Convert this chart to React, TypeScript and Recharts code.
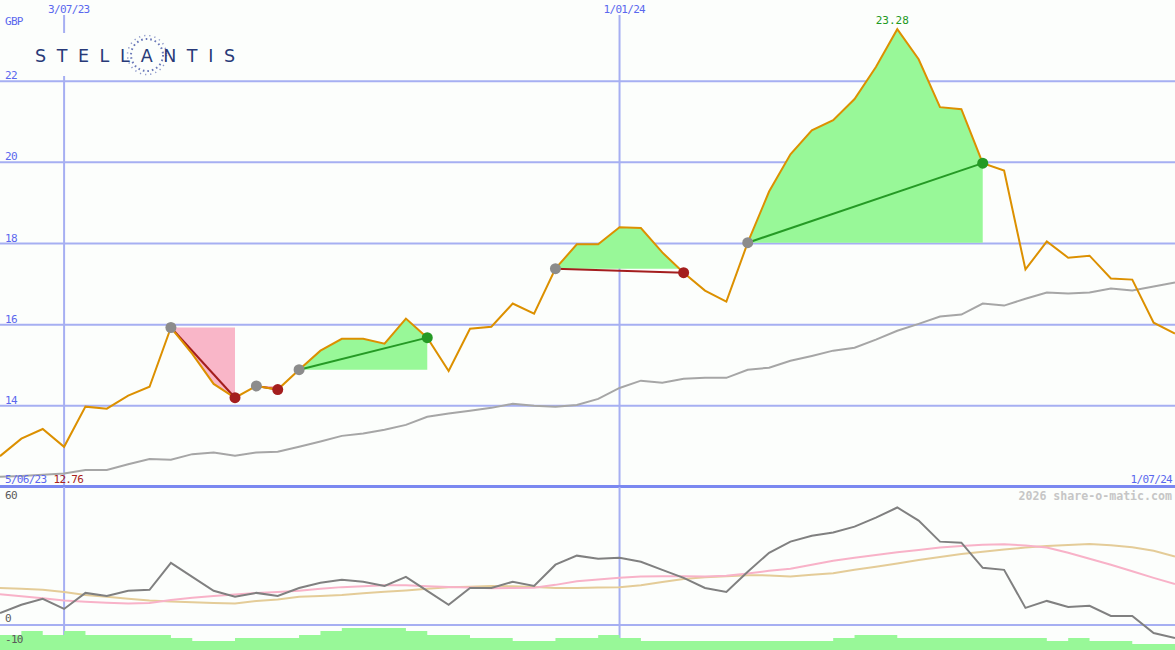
import React from 'react';
import {
  ComposedChart,
  Line,
  Area,
  XAxis,
  YAxis,
  CartesianGrid,
  ReferenceLine,
  ReferenceDot,
} from 'recharts';

// weekly closes in GBP, from 5/06/23
const closes = [
  12.76, 13.19, 13.43, 12.99, 13.98, 13.93, 14.25, 14.47, 15.93, 15.28,
  14.54, 14.20, 14.49, 14.40, 14.89, 15.36, 15.65, 15.65, 15.53, 16.15,
  15.68, 14.86, 15.90, 15.95, 16.52, 16.27, 17.38, 17.98, 17.98, 18.40,
  18.38, 17.78, 17.28, 16.84, 16.57, 18.02, 19.28, 20.20, 20.79, 21.04,
  21.56, 22.35, 23.28, 22.54, 21.36, 21.31, 19.98, 19.80, 17.36, 18.05,
  17.65, 17.70, 17.14, 17.11, 16.05, 15.78,
];

// long moving average (grey)
const avgLine = [
  12.25, 12.27, 12.30, 12.33, 12.42, 12.42, 12.56, 12.69, 12.67, 12.81,
  12.85, 12.77, 12.85, 12.87, 12.99, 13.12, 13.26, 13.32, 13.41, 13.53,
  13.73, 13.81, 13.88, 13.95, 14.05, 14.00, 13.98, 14.02, 14.17, 14.44,
  14.62, 14.57, 14.67, 14.69, 14.69, 14.89, 14.94, 15.11, 15.23, 15.36,
  15.43, 15.63, 15.85, 16.02, 16.20, 16.25, 16.52, 16.47, 16.64, 16.79,
  16.77, 16.79, 16.89, 16.84, 16.94, 17.04,
];

// lower panel oscillator + its two smoothings
const oscMain = [
  5.8, 9.8, 12.7, 7.8, 15.6, 14.1, 16.6, 17.1, 30.2, 23.4,
  16.6, 13.7, 15.6, 14.1, 18.0, 20.5, 22.0, 21.0, 19.0, 23.4,
  16.6, 9.8, 18.0, 18.0, 21.0, 19.0, 29.3, 33.7, 32.2, 32.7,
  30.7, 26.8, 22.9, 18.0, 16.1, 25.9, 35.1, 40.5, 43.4, 44.9,
  47.8, 52.2, 57.1, 50.7, 40.5, 40.0, 27.8, 26.8, 8.3, 11.7,
  8.8, 9.3, 4.4, 4.4, -3.9, -6.3,
];
const oscFast = [
  15.0, 14.0, 13.0, 11.9, 11.3, 10.8, 10.5, 10.7, 12.2, 13.2,
  14.1, 14.8, 15.5, 16.0, 16.6, 17.6, 18.4, 18.8, 19.3, 19.3,
  18.8, 18.5, 18.2, 17.9, 18.0, 18.1, 19.5, 21.2, 22.1, 23.0,
  23.6, 23.7, 23.7, 23.6, 23.9, 25.0, 26.3, 27.3, 29.3, 31.2,
  32.7, 34.0, 35.3, 36.4, 37.6, 38.4, 39.0, 39.2, 38.6, 37.6,
  35.1, 32.2, 29.3, 26.1, 22.9, 19.9,
];
const oscSlow = [
  18.0, 17.6, 17.1, 16.0, 14.6, 13.7, 12.7, 11.9, 11.4, 11.0,
  10.7, 10.5, 11.7, 12.4, 13.7, 14.1, 14.6, 15.4, 16.1, 16.8,
  17.6, 18.3, 18.6, 19.0, 18.8, 18.5, 18.0, 18.0, 18.2, 18.4,
  19.3, 20.9, 22.3, 23.2, 23.7, 24.2, 24.1, 23.6, 24.4, 25.2,
  26.8, 28.3, 29.9, 31.6, 33.0, 34.5, 35.6, 36.7, 37.6, 38.4,
  38.9, 39.4, 38.8, 37.8, 36.1, 33.3,
];

// volume per week (one bar between each pair of closes)
const volume = [
  5, 6.3, 5, 6.3, 5, 5, 5, 5, 4, 3,
  3, 4, 4, 4, 5, 6.3, 7.3, 7.3, 7.3, 6.3,
  5, 5, 4, 4, 3, 3, 4, 4, 5, 4,
  3, 3, 3, 3, 3, 3, 3, 3, 3, 4,
  5, 5, 4, 4, 4, 4, 4, 4, 4, 3,
  4, 3, 3, 2, 2,
];

const dateTicks = [3, 29];
const dateLabels = ['3/07/23', '1/01/24'];
const firstDate = '5/06/23';
const lastDate = '1/07/24';
const priceTicks = [14, 16, 18, 20, 22];
const oscTicks = [-10, 0, 60];

// trade signals: entry week / exit week
const buyAt = [8, 12, 14, 26, 35];
const sellAt = [11, 13, 20, 32, 46];

const W = 1175;
const TOP_H = 487;
const BOT_H = 163;
const BG = '#fcfefc';
const BLUE = '#5a68ee';
const GRID = '#a6aff2';
const MONO = '"DejaVu Sans Mono", monospace';
const GAIN_FILL = '#98f898';
const LOSS_FILL = '#f9b6c8';
const WIN = '#259a25';
const LOSS = '#a41e1e';

const lastIdx = closes.length - 1;
const priceRows = closes.map((c, i) => ({ x: i, close: c, avg: avgLine[i] }));
const oscRows = oscMain.map((v, i) => ({ x: i, main: v, fast: oscFast[i], slow: oscSlow[i] }));
const volRows = volume
  .map((v, i) => ({ x: i, vol: v }))
  .concat([{ x: volume.length, vol: volume[volume.length - 1] }]);

const hi = Math.max(...closes);
const hiIdx = closes.indexOf(hi);
const lo = Math.min(...closes);

// area between the close and the entry price, split at the crossings
function fillRows(a: number, b: number) {
  const base = closes[a];
  const rows: { x: number; up: number[]; down: number[] }[] = [];
  for (let i = a; i <= b; i++) {
    const c = closes[i];
    const prev = closes[i - 1];
    if (i > a && (prev - base) * (c - base) < 0) {
      rows.push({ x: i - 1 + (prev - base) / (prev - c), up: [base, base], down: [base, base] });
    }
    rows.push({ x: i, up: [base, Math.max(c, base)], down: [Math.min(c, base), base] });
  }
  return rows;
}

const PriceTick = (props: any) => (
  <text x={5} y={props.y - 2} fill={BLUE} fontSize={11} fontFamily={MONO} letterSpacing={-0.7}>
    {props.payload.value}
  </text>
);

const OscTick = (props: any) => (
  <text x={5} y={props.y - 3} fill="#5a5a5a" fontSize={11} fontFamily={MONO} letterSpacing={-0.7}>
    {props.payload.value}
  </text>
);

const DateLabel = (props: any) => (
  <text x={props.viewBox.x - 16} y={13} fill={BLUE} fontSize={11} fontFamily={MONO} letterSpacing={-0.7}>
    {props.text}
  </text>
);

export default function App() {
  return (
    <div style={{ position: 'absolute', left: 0, top: 0, width: W, height: TOP_H + BOT_H, background: BG, overflow: 'hidden' }}>
      <div style={{ position: 'absolute', left: 0, top: 0 }}>
        <ComposedChart width={W} height={TOP_H} data={priceRows} margin={{ top: 0, right: 0, bottom: 0, left: 0 }}>
          <CartesianGrid stroke={GRID} strokeWidth={2} y={15} height={TOP_H - 15} syncWithTicks />
          <XAxis type="number" dataKey="x" domain={[0, lastIdx]} ticks={dateTicks} hide allowDataOverflow />
          <YAxis
            domain={[12, 24]}
            ticks={priceTicks}
            interval={0}
            mirror
            axisLine={false}
            tickLine={false}
            tick={<PriceTick />}
            allowDataOverflow
          />
          {dateTicks.map((t, k) => (
            <ReferenceLine key={'d' + k} x={t} stroke="none" label={<DateLabel text={dateLabels[k]} />} />
          ))}
          {buyAt.map((a, k) => {
            const rows = fillRows(a, sellAt[k]);
            return [
              <Area key={'up' + k} data={rows} dataKey="up" type="linear" stroke="none" fill={GAIN_FILL} fillOpacity={1} activeDot={false} isAnimationActive={false} />,
              <Area key={'dn' + k} data={rows} dataKey="down" type="linear" stroke="none" fill={LOSS_FILL} fillOpacity={1} activeDot={false} isAnimationActive={false} />,
            ];
          })}
          <Line dataKey="avg" type="linear" stroke="#a6a6a6" strokeWidth={2} dot={false} activeDot={false} isAnimationActive={false} />
          {buyAt.map((a, k) => {
            const b = sellAt[k];
            const won = closes[b] > closes[a];
            const col = won ? WIN : LOSS;
            return (
              <Line
                key={'t' + k}
                data={[{ x: a, v: closes[a] }, { x: b, v: closes[b] }]}
                dataKey="v"
                type="linear"
                stroke={col}
                strokeWidth={2}
                dot={(p: any) => (
                  <circle key={'c' + k + p.index} cx={p.cx} cy={p.cy} r={5.5} fill={p.index === 0 ? '#8c8c8c' : col} />
                )}
                activeDot={false}
                isAnimationActive={false}
              />
            );
          })}
          <Line dataKey="close" type="linear" stroke="#dc9000" strokeWidth={2} dot={false} activeDot={false} isAnimationActive={false} />
          <ReferenceDot
            x={hiIdx}
            y={hi}
            r={0}
            fill="none"
            stroke="none"
            label={{ value: hi.toFixed(2), position: 'top', offset: 5, dx: -5, fill: '#229922', fontSize: 11, fontFamily: MONO }}
          />
        </ComposedChart>
      </div>

      <div style={{ position: 'absolute', left: 0, top: 485, width: W, height: 3, background: '#7a88f0' }} />

      <div style={{ position: 'absolute', left: 0, top: TOP_H }}>
        <ComposedChart width={W} height={BOT_H} data={oscRows} margin={{ top: 0, right: 0, bottom: 0, left: 0 }}>
          <CartesianGrid stroke={GRID} strokeWidth={2} yAxisId="zero" syncWithTicks />
          <XAxis type="number" dataKey="x" domain={[0, lastIdx]} ticks={dateTicks} hide allowDataOverflow />
          <YAxis yAxisId="zero" domain={[-12.15, 67.05]} ticks={[0]} hide allowDataOverflow />
          <YAxis yAxisId="vol" domain={[0, 54.33]} hide allowDataOverflow />
          <Area
            yAxisId="vol"
            data={volRows}
            dataKey="vol"
            type="stepAfter"
            stroke="none"
            fill={GAIN_FILL}
            fillOpacity={1}
            activeDot={false}
            isAnimationActive={false}
          />
          <Line yAxisId="osc" dataKey="slow" type="linear" stroke="#e4cc98" strokeWidth={2} dot={false} activeDot={false} isAnimationActive={false} />
          <Line yAxisId="osc" dataKey="fast" type="linear" stroke="#f8b2c8" strokeWidth={2} dot={false} activeDot={false} isAnimationActive={false} />
          <Line yAxisId="osc" dataKey="main" type="linear" stroke="#808080" strokeWidth={2} dot={false} activeDot={false} isAnimationActive={false} />
          <YAxis
            yAxisId="osc"
            domain={[-12.15, 67.05]}
            ticks={oscTicks}
            interval={0}
            mirror
            axisLine={false}
            tickLine={false}
            tick={<OscTick />}
            allowDataOverflow
          />
        </ComposedChart>
      </div>

      <svg width={W} height={TOP_H + BOT_H} style={{ position: 'absolute', left: 0, top: 0, pointerEvents: 'none' }}>
        <text x={5} y={25} fill={BLUE} fontSize={11} fontFamily={MONO} letterSpacing={-0.7}>GBP</text>
        <rect x={28} y={33} width={214} height={43} fill={BG} />
        <circle cx={147} cy={55} r={16} fill="none" stroke="#6a78b8" strokeWidth={2} strokeDasharray="1.6 3" />
        <circle cx={147} cy={55} r={19.5} fill="none" stroke="#8a96c8" strokeWidth={1.5} strokeDasharray="1.2 4" />
        <text
          x={35}
          y={62}
          fill="#283a78"
          fontSize={17.5}
          fontFamily="DejaVu Sans"
          textLength={200}
          lengthAdjust="spacing"
        >
          STELLANTIS
        </text>
        <text x={5} y={483} fontSize={11} fontFamily={MONO} letterSpacing={-0.7}>
          <tspan fill={BLUE}>{firstDate}</tspan>
          <tspan fill="#a82020" dx={7}>{lo.toFixed(2)}</tspan>
        </text>
        <text x={1172} y={483} textAnchor="end" fill={BLUE} fontSize={11} fontFamily={MONO} letterSpacing={-0.7}>
          {lastDate}
        </text>
        <text x={1172} y={500} textAnchor="end" fill="#c6c6c6" fontSize={11.6} fontWeight="bold" fontFamily={MONO}>
          2026 share-o-matic.com
        </text>
      </svg>
    </div>
  );
}
